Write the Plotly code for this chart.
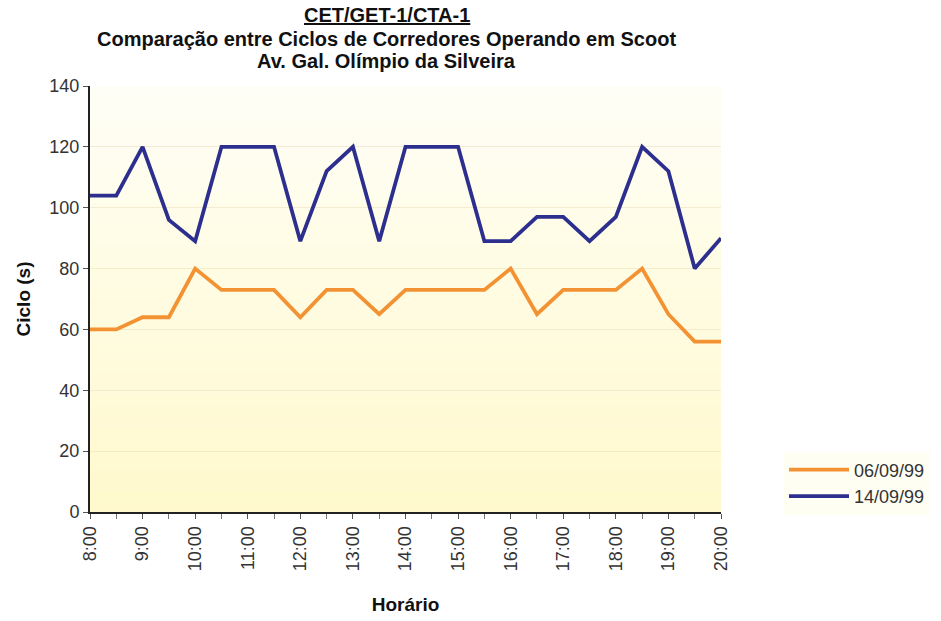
import plotly.graph_objects as go

# ---- data ----
times = ["8:00", "8:30", "9:00", "9:30", "10:00", "10:30", "11:00", "11:30",
         "12:00", "12:30", "13:00", "13:30", "14:00", "14:30", "15:00", "15:30",
         "16:00", "16:30", "17:00", "17:30", "18:00", "18:30", "19:00", "19:30",
         "20:00"]
ciclo_0609 = [60, 60, 64, 64, 80, 73, 73, 73, 64, 73, 73, 65, 73, 73, 73, 73,
              80, 65, 73, 73, 73, 80, 65, 56, 56]
ciclo_1409 = [104, 104, 120, 96, 89, 120, 120, 120, 89, 112, 120, 89, 120, 120, 120, 89,
              89, 97, 97, 89, 97, 120, 112, 80, 90]
tick_labels = ["8:00", "9:00", "10:00", "11:00", "12:00", "13:00", "14:00",
               "15:00", "16:00", "17:00", "18:00", "19:00", "20:00"]
y_ticks = [0, 20, 40, 60, 80, 100, 120, 140]
series_names = ["06/09/99", "14/09/99"]
title_lines = ["CET/GET-1/CTA-1",
               "Comparação entre Ciclos de Corredores Operando em Scoot",
               "Av. Gal. Olímpio da Silveira"]


def to_hours(t):
    h, m = t.split(":")
    return int(h) + int(m) / 60.0


x_vals = [to_hours(t) for t in times]
tick_vals = [to_hours(t) for t in tick_labels]

ORANGE = "#F39233"
BLUE = "#2C2F8E"
FONT = "Liberation Sans, Arial, sans-serif"

W, H = 941, 621
L, R, T, B = 90, 941 - 722, 86, 621 - 512

fig = go.Figure()
fig.add_trace(go.Scatter(x=x_vals, y=ciclo_0609, mode="lines", name=series_names[0],
                         line=dict(color=ORANGE, width=3.8)))
fig.add_trace(go.Scatter(x=x_vals, y=ciclo_1409, mode="lines", name=series_names[1],
                         line=dict(color=BLUE, width=3.8)))

# gradient background in bands (plot area)
n_bands = 40
top_rgb = (255, 254, 246)
bot_rgb = (255, 249, 205)
shapes = []
for i in range(n_bands):
    f = i / (n_bands - 1)
    c = tuple(round(top_rgb[k] + (bot_rgb[k] - top_rgb[k]) * f) for k in range(3))
    shapes.append(dict(type="rect", xref="x domain", yref="y domain",
                       x0=0, x1=1, y1=1 - i / n_bands, y0=1 - (i + 1) / n_bands,
                       fillcolor="rgb(%d,%d,%d)" % c, line=dict(width=0),
                       layer="below"))

annotations = []
title_y = [15, 39, 61]
for i, (txt, yy) in enumerate(zip(title_lines, title_y)):
    annotations.append(dict(
        text=("<b>%s</b>" % txt) if i else
        "<b><span style='text-decoration:underline'>%s</span></b>" % txt,
        xref="paper", yref="paper", x=(387 - L) / (W - L - R),
        y=1 + (T - yy) / (H - T - B), xanchor="center", yanchor="middle",
        showarrow=False, font=dict(family=FONT, size=20, color="#111111")))

fig.update_layout(
    width=W, height=H,
    margin=dict(l=L, r=R, t=T, b=B),
    paper_bgcolor="white",
    plot_bgcolor="rgb(255,252,230)",
    font=dict(family=FONT, size=17, color="#333333"),
    shapes=shapes,
    annotations=annotations,
    showlegend=True,
    legend=dict(x=(784 - L) / (W - L - R), xanchor="left",
                y=(H - B - 483) / (H - T - B), yanchor="middle",
                itemwidth=60,
                font=dict(family=FONT, size=18, color="#333333"),
                bgcolor="rgba(255,254,243,1)", tracegroupgap=0),
    xaxis=dict(range=[8, 20], tickvals=tick_vals, ticktext=tick_labels,
               tickangle=-90, ticks="outside", ticklen=5, tickcolor="#555555",
               showgrid=False, zeroline=False, automargin=False,
               showline=True, linecolor="#222222", linewidth=2,
               tickfont=dict(family=FONT, size=18, color="#333333"),
               minor=dict(dtick=0.5, tick0=8, ticks="outside", ticklen=5,
                          tickcolor="#777777", showgrid=False),
               title=dict(text="<b>Horário</b>", standoff=27,
                          font=dict(family=FONT, size=19, color="#111111"))),
    yaxis=dict(range=[0, 140], tickvals=y_ticks, ticks="outside", ticklen=5,
               tickcolor="#555555", automargin=False,
               showgrid=True, gridcolor="rgba(235,225,190,0.6)", gridwidth=1,
               zeroline=False, showline=True, linecolor="#222222", linewidth=2,
               tickfont=dict(family=FONT, size=18, color="#333333"),
               title=dict(text="<b>Ciclo (s)</b>", standoff=14,
                          font=dict(family=FONT, size=19, color="#111111"))),
)

fig.write_html("out.html")
